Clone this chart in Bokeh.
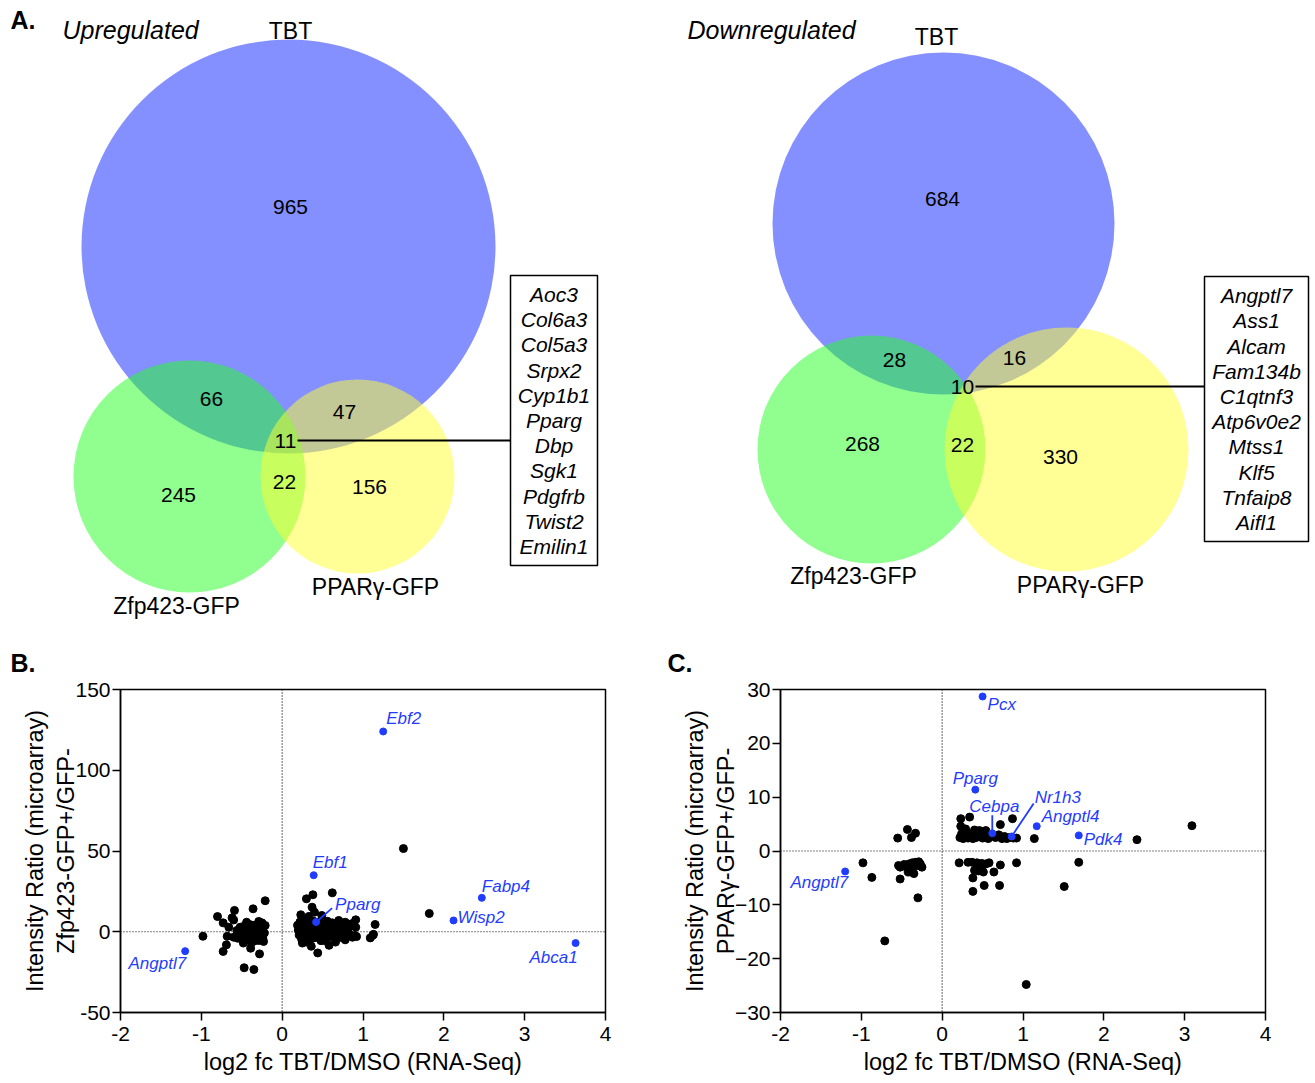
from bokeh.plotting import figure
from bokeh.models import Range1d, FixedTicker, Span
from bokeh.layouts import column, row
from bokeh.embed import file_html
from bokeh.resources import INLINE
from bokeh.core.properties import value

FONT = "Liberation Sans"
BLUE_PT = "#1f3cff"

# ---------------- data ----------------
set_names = ["TBT", "Zfp423-GFP", "PPAR\u03b3-GFP"]
up_title = "Upregulated"
down_title = "Downregulated"
# regions: TBT only, TBT&Zfp, TBT&PPAR, all three, Zfp&PPAR, Zfp only, PPAR only
up_counts = [965, 66, 47, 11, 22, 245, 156]
down_counts = [684, 28, 16, 10, 22, 268, 330]
up_genes = ["Aoc3", "Col6a3", "Col5a3", "Srpx2", "Cyp1b1", "Pparg", "Dbp",
            "Sgk1", "Pdgfrb", "Twist2", "Emilin1"]
down_genes = ["Angptl7", "Ass1", "Alcam", "Fam134b", "C1qtnf3", "Atp6v0e2",
              "Mtss1", "Klf5", "Tnfaip8", "Aifl1"]

# panel B black points
B_x = [-0.98, -0.80, -0.73, -0.66, -0.62, -0.59, -0.60, -0.68, -0.69, -0.73,
       -0.36, -0.21, -0.52, -0.44, -0.39, -0.35, -0.29, -0.25, -0.21, -0.26,
       -0.31, -0.47, -0.60, -0.55, -0.50, -0.43, -0.39, -0.35, -0.31, -0.27,
       -0.24, -0.33, -0.37, -0.29, -0.25, -0.41, -0.46, -0.53, -0.45, -0.22,
       -0.28, -0.39, -0.28, -0.47, -0.35, -0.56, -0.40, -0.33, -0.23, -0.48,
       0.30, 0.38, 0.62, 0.37, 0.40, 0.23, 0.33, 0.49, 0.91, 0.78, 0.70, 1.15,
       0.19, 0.20, 0.21, 0.22, 0.23, 0.24, 0.25, 0.26, 0.27, 0.28, 0.29, 0.30,
       0.31, 0.32, 0.33, 0.34, 0.35, 0.36, 0.37, 0.38, 0.39, 0.40, 0.41, 0.42,
       0.43, 0.44, 0.45, 0.46, 0.47, 0.48, 0.49, 0.50, 0.51, 0.52, 0.53, 0.54,
       0.55, 0.56, 0.57, 0.58, 0.59, 0.60, 0.62, 0.63, 0.64, 0.66, 0.67, 0.68,
       0.70, 0.71, 0.72, 0.73, 0.74, 0.76, 0.77, 0.78, 0.80, 0.81, 0.83, 0.84,
       0.87, 0.90, 0.91, 0.92, 0.86,
       0.44, 0.30, 0.52, 0.66, 0.58, 0.36, 0.25,
       1.12, 1.09, 1.13, 1.50, 1.82]
B_y = [-2.8, 9.4, 5.5, 2.8, 8.6, 13.2, 7.3, -2.8, -8.1, -12.2,
       14.2, 19.2, 2.8, 5.9, 4.3, 3.9, 6.4, 5.5, 3.9, 2.8,
       2.2, 3.5, -3.4, -4.0, -4.4, -3.4, -2.3, -1.9, -2.3, -3.4,
       -4.0, -5.4, -6.4, -5.4, -1.9, -5.4, -5.4, -1.5, -0.5, -0.8,
       0.5, -10.2, -13.7, -22.3, -23.4, 0.8, 1.5, -0.8, -6.0, -7.0,
       20.4, 22.9, 24.1, 15.2, 12.1, 10.5, 9.5, 10.1, 7.4, 5.9, 7.0, 4.5,
       4.0, 1.0, -2.0, 6.0, 3.0, -4.5, 0.0, 5.0, 2.0, -3.0, 7.5, -1.0,
       3.5, -5.0, 1.5, 5.5, -2.5, 3.0, 0.5, -4.0, 6.5, 2.0, -1.5, 4.5,
       -3.5, 1.0, 6.0, -0.5, 3.0, -5.5, 2.5, 5.0, -2.0, 0.5, 4.0, -4.0,
       2.0, 6.5, -1.0, 3.5, -3.0, 1.0, 5.5, -2.5, 2.5, -4.5, 4.0, 0.0,
       -1.5, 3.0, 5.0, -3.5, 1.5, -2.0, 4.0, -5.0, 2.0, 0.6, -1.5, 3.5,
       -3.4, -2.3, 2.8, -3.0, 5.0,
       -13.1, -6.4, -5.4, -6.4, -8.4, -9.0, -7.0,
       -2.3, -3.8, -1.6, 51.5, 11.3]
B_genes = ["Ebf2", "Ebf1", "Pparg", "Fabp4", "Wisp2", "Abca1", "Angptl7"]
B_gx = [1.25, 0.39, 0.42, 2.47, 2.12, 3.63, -1.20]
B_gy = [124.0, 35.0, 6.0, 21.0, 7.0, -7.0, -12.0]

# panel C black points
C_x = [-0.55, -0.43, -0.38, -0.33,
       -0.98, -0.87, -0.54, -0.47, -0.41, -0.37, -0.33, -0.29, -0.27, -0.25,
       -0.31, -0.52, -0.42, -0.35, -0.52, -0.30, -0.37, -0.45, -0.71,
       0.22, 0.24, 0.26, 0.28, 0.30, 0.32, 0.34, 0.36, 0.38, 0.40, 0.42, 0.45,
       0.48, 0.50, 0.52, 0.54, 0.57, 0.60, 0.66, 0.70, 0.74, 0.77, 0.80, 0.83,
       0.88, 0.92, 0.23, 0.34, 0.23, 0.29, 0.40, 0.46, 0.54, 0.72, 0.87, 1.14,
       2.41, 3.09,
       0.21, 0.32, 0.37, 0.43, 0.49, 0.54, 0.43, 0.45, 0.51, 0.40, 0.64, 0.72,
       0.92, 0.38, 0.52, 0.71, 0.38, 0.58, 0.47, 1.04, 1.51, 1.69]
C_y = [2.4, 4.0, 2.5, 3.3,
       -2.2, -4.9, -2.7, -2.5, -2.4, -2.2, -2.1, -2.0, -2.4, -3.0,
       -2.7, -3.0, -3.9, -4.2, -5.2, -8.7, -3.0, -2.9, -16.7,
       2.5, 3.2, 2.3, 2.8, 3.5, 2.4, 3.0, 2.6, 2.3, 3.3, 2.5, 2.9,
       3.6, 2.4, 3.1, 2.6, 2.3, 2.8, 2.5, 3.0, 2.3, 2.7, 2.3, 2.5,
       2.4, 2.4, 6.0, 6.3, 4.6, 4.1, 3.9, 3.8, 3.8, 4.9, 6.0, 2.3,
       2.1, 4.7,
       -2.2, -2.1, -2.1, -2.2, -2.3, -2.4, -3.3, -3.7, -3.9, -3.6, -3.9, -2.6,
       -2.2, -5.0, -6.4, -6.4, -7.5, -2.2, -2.8, -24.8, -6.6, -2.1]
C_genes = ["Pcx", "Pparg", "Cebpa", "Nr1h3", "Angptl4", "Pdk4", "Angptl7"]
C_gx = [0.50, 0.41, 0.62, 0.86, 1.17, 1.69, -1.20]
C_gy = [28.7, 11.4, 3.3, 2.7, 4.6, 2.9, -3.8]

x_ticks = [-2, -1, 0, 1, 2, 3, 4]
B_yticks = [-50, 0, 50, 100, 150]
C_yticks = [-30, -20, -10, 0, 10, 20, 30]
x_label = "log2 fc TBT/DMSO (RNA-Seq)"
B_ylabel = "Intensity Ratio (microarray)\nZfp423-GFP+/GFP-"
C_ylabel = "Intensity Ratio (microarray)\nPPAR\u03b3-GFP+/GFP-"

# ---------------- layout (page pixel positions for the Venn panel) ----------------
venn_colors = ["#0a21ff", "#21ff21", "#ffff2d"]
venn_layouts = [
    dict(circles=[(288, 246, 207), (189, 476, 116), (357, 476, 97)],
         regions=[(290, 206), (211, 398), (344, 411), (285, 440), (284, 481), (178, 494), (369, 486)],
         names=[(290, 30), (176, 605), (375, 586)],
         title=(62, 29), box=(510, 597, 275, 565), line=(297, 440, 510),
         genes=up_genes, counts=up_counts, ttl=up_title),
    dict(circles=[(943, 223, 171), (871, 449, 114), (1066, 449, 122)],
         regions=[(942, 198), (894, 359), (1014, 357), (962, 386), (962, 444), (862, 443), (1060, 456)],
         names=[(936, 36), (853, 575), (1080, 584)],
         title=(687, 29), box=(1204, 1308, 276, 541), line=(975, 386, 1204),
         genes=down_genes, counts=down_counts, ttl=down_title),
]

TOP_H = 676
top = figure(width=1314, height=TOP_H, x_range=Range1d(0, 1314), y_range=Range1d(TOP_H, 0),
             output_backend="svg", toolbar_location=None,
             x_axis_location=None, y_axis_location=None,
             min_border_left=0, min_border_right=0, min_border_top=0, min_border_bottom=0)
top.grid.visible = False
top.outline_line_color = None

for L in venn_layouts:
    for (cx, cy, r), col in zip(L["circles"], venn_colors):
        top.circle(x=[cx], y=[cy], radius=r, fill_color=col, fill_alpha=0.5, line_color=None)
    top.text(x=[p[0] for p in L["regions"]], y=[p[1] for p in L["regions"]],
             text=[str(c) for c in L["counts"]], text_font=value(FONT), text_font_size="21px",
             text_align="center", text_baseline="middle", text_color="black")
    top.text(x=[p[0] for p in L["names"]], y=[p[1] for p in L["names"]], text=set_names,
             text_font=value(FONT), text_font_size="23px", text_align="center",
             text_baseline="middle", text_color="black")
    top.text(x=[L["title"][0]], y=[L["title"][1]], text=[L["ttl"]], text_font=value(FONT),
             text_font_size="25px", text_font_style="italic", text_align="left",
             text_baseline="middle", text_color="black")
    bl, br, bt, bb = L["box"]
    top.quad(left=[bl], right=[br], top=[bt], bottom=[bb], fill_color=None,
             line_color="black", line_width=1.5)
    x0, ly, x1 = L["line"]
    top.segment(x0=[x0], y0=[ly], x1=[x1], y1=[ly], line_color="black", line_width=1.8)
    n = len(L["genes"])
    step = 25.2
    start = (bt + bb) / 2 - step * (n - 1) / 2
    top.text(x=[(bl + br) / 2] * n, y=[start + i * step for i in range(n)], text=L["genes"],
             text_font=value(FONT), text_font_size="21px", text_font_style="italic",
             text_align="center", text_baseline="middle", text_color="black")

top.text(x=[10, 10, 667], y=[19, 662, 662], text=["A.", "B.", "C."], text_font=value(FONT),
         text_font_size="25px", text_font_style="bold", text_align="left",
         text_baseline="middle", text_color="black")

BOT_H = 1083 - TOP_H


def make_scatter(width, left, right, yr, yticks, ylabels, ylabel, xs, ys, gnames, gx, gy,
                 offsets, leaders):
    p = figure(width=width, height=BOT_H, x_range=Range1d(-2, 4), y_range=Range1d(*yr),
               output_backend="svg", toolbar_location=None,
               min_border_left=left, min_border_right=right,
               min_border_top=689 - TOP_H, min_border_bottom=BOT_H - (689 - TOP_H) - 323)
    p.grid.visible = False
    p.outline_line_color = "black"
    p.outline_line_width = 1.5
    p.background_fill_color = "white"
    p.xaxis.ticker = FixedTicker(ticks=x_ticks)
    p.xaxis.major_label_overrides = {t: str(t) for t in x_ticks}
    p.yaxis.ticker = FixedTicker(ticks=yticks)
    p.yaxis.major_label_overrides = {t: l for t, l in zip(yticks, ylabels)}
    for ax in (p.xaxis[0], p.yaxis[0]):
        ax.minor_tick_line_color = None
        ax.major_tick_in = 0
        ax.major_tick_out = 8
        ax.major_tick_line_width = 1.5
        ax.axis_line_width = 1.5
        ax.major_label_text_font = FONT
        ax.major_label_text_font_size = "21px"
        ax.major_label_text_color = "black"
        ax.major_label_standoff = 2
        ax.axis_label_text_font = FONT
        ax.axis_label_text_font_size = "23.5px"
        ax.axis_label_text_font_style = "normal"
        ax.axis_label_text_color = "black"
        ax.axis_label_standoff = 0
    p.xaxis.major_label_standoff = 6
    p.xaxis.axis_label_standoff = 5
    p.xaxis.axis_label = x_label
    p.yaxis.axis_label = ylabel
    p.yaxis.axis_label_standoff = -7
    p.add_layout(Span(location=0, dimension="height", line_color="black",
                      line_dash="1 2", line_width=1.2))
    p.add_layout(Span(location=0, dimension="width", line_color="black",
                      line_dash="1 2", line_width=1.2))
    p.scatter(xs, ys, size=8, color="black")
    p.scatter(gx, gy, size=7, color=BLUE_PT)
    # leader lines (offsets in screen px converted through the panel scale)
    sx = 485.0 / 6.0
    sy = 323.0 / (yr[1] - yr[0])
    for gi, (dx, dy) in leaders.items():
        p.segment(x0=[gx[gi]], y0=[gy[gi]], x1=[gx[gi] + dx / sx], y1=[gy[gi] - dy / sy],
                  line_color=BLUE_PT, line_width=1.8)
    for i, name in enumerate(gnames):
        ox, oy, al = offsets[i]
        p.text(x=[gx[i]], y=[gy[i]], text=[name], x_offset=ox, y_offset=oy,
               text_font=value(FONT), text_font_size="17px", text_font_style="italic",
               text_color=BLUE_PT, text_align=al, text_baseline="middle")
    return p


B_offsets = [(3, -13, "left"), (-1, -13, "left"), (19, -18, "left"), (0, -11, "left"),
             (4, -3, "left"), (2, 14, "right"), (1, 12, "right")]
C_offsets = [(5, 8, "left"), (0, -11, "center"), (2, -27, "center"), (23, -39, "left"),
             (5, -10, "left"), (5, 4, "left"), (3, 11, "right")]

pB = make_scatter(655, 120, 50, (-50, 150), B_yticks, [str(t) for t in B_yticks], B_ylabel,
                  B_x, B_y, B_genes, B_gx, B_gy, B_offsets, {2: (16, -14)})
pC = make_scatter(659, 125, 49, (-30, 30), C_yticks,
                  [("\u2212" + str(-t)) if t < 0 else str(t) for t in C_yticks], C_ylabel,
                  C_x, C_y, C_genes, C_gx, C_gy, C_offsets, {2: (0, -18), 3: (22, -33)})

layout = column(top, row(pB, pC))
open("out.html", "w").write(file_html(layout, INLINE))
